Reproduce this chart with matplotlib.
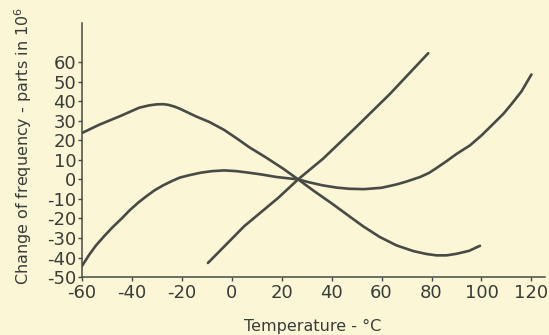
import matplotlib
matplotlib.use('Agg')
import matplotlib.pyplot as plt

# Curve readings from the figure (temperature in degC, change in parts per 10^6)
temp_a = [-60, -53, -45, -37, -33, -30, -27.5, -25.5, -23, -20.8, -17.5, -14.2,
          -8.8, -3, 2, 7, 14, 20.6, 26.6, 33, 40.6, 47, 52.6, 59.3, 66, 72.7,
          78, 82, 86, 90, 95, 99.4]
freq_a = [23.7, 28.0, 32.2, 36.7, 37.9, 38.4, 38.5, 38.2, 37.3, 36.2, 34.2, 32.2,
          29.3, 25.3, 21.0, 16.5, 11.0, 5.5, 0, -6.0, -12.8, -18.8, -24.0,
          -29.5, -33.8, -36.7, -38.2, -38.9, -38.9, -38.1, -36.6, -34.0]

temp_b = [-60, -57, -54.3, -51, -47.6, -44, -40.9, -37.5, -34.2, -31, -27.5,
          -24, -20.8, -16.8, -12.5, -8, -3, 2, 7, 12, 18, 26.6, 31, 36.6, 42,
          47, 53, 60, 66, 70, 75.4, 79, 82, 86, 90, 95.4, 100, 104, 108.8, 112,
          116, 120]
freq_b = [-44.5, -38.5, -33.8, -29.0, -24.4, -20.0, -15.9, -12.0, -8.7, -5.7,
          -3.1, -0.9, 0.9, 2.2, 3.4, 4.2, 4.6, 4.2, 3.4, 2.5, 1.2, 0, -1.5, -3.1,
          -4.2, -4.8, -5.0, -4.3, -2.6, -1.1, 1.2, 3.3, 5.8, 9.3, 13.0, 17.4,
          22.5, 27.5, 33.6, 38.5, 45.0, 53.7]

temp_c = [-9.5, 5, 18.6, 26.6, 36.6, 50, 63.4, 78.7]
freq_c = [-42.8, -24.0, -9.5, 0, 10.6, 27.0, 43.8, 64.6]

x_ticks = [-60, -40, -20, 0, 20, 40, 60, 80, 100, 120]
y_ticks = [-50, -40, -30, -20, -10, 0, 10, 20, 30, 40, 50, 60]

paper = '#faf6d6'
ink = '#474a45'
text_ink = '#3a3c38'

plt.rcParams['font.family'] = 'DejaVu Sans'
plt.rcParams['axes.unicode_minus'] = False

fig = plt.figure(figsize=(5.49, 3.35), dpi=100, facecolor=paper)
ax = fig.add_axes([0.149, 0.173, 0.844, 0.758], facecolor=paper)

for t, f in [(temp_a, freq_a), (temp_b, freq_b), (temp_c, freq_c)]:
    ax.plot(t, f, color=ink, linewidth=1.9, solid_capstyle='round',
            solid_joinstyle='round')

ax.set_xlim(-60, 125.5)
ax.set_ylim(-50, 80)
ax.set_xticks(x_ticks)
ax.set_yticks(y_ticks)

for side in ['top', 'right']:
    ax.spines[side].set_visible(False)
for side in ['left', 'bottom']:
    ax.spines[side].set_color(ink)
    ax.spines[side].set_linewidth(1.1)

ax.tick_params(colors=ink, labelcolor=text_ink, labelsize=13, length=3,
               width=1.0, pad=1)
ax.tick_params(axis='x', pad=2)

# labels placed in figure coordinates to match the original layout
fig.text(0.570, 0.024, 'Temperature - °C', fontsize=11.5, color=text_ink,
         ha='center', va='center')
fig.text(0.042, 0.563, 'Change of frequency - parts in 10$^6$', fontsize=11.5,
         color=text_ink, rotation=90, ha='center', va='center')

plt.savefig('out.png', dpi=100, facecolor=paper)
